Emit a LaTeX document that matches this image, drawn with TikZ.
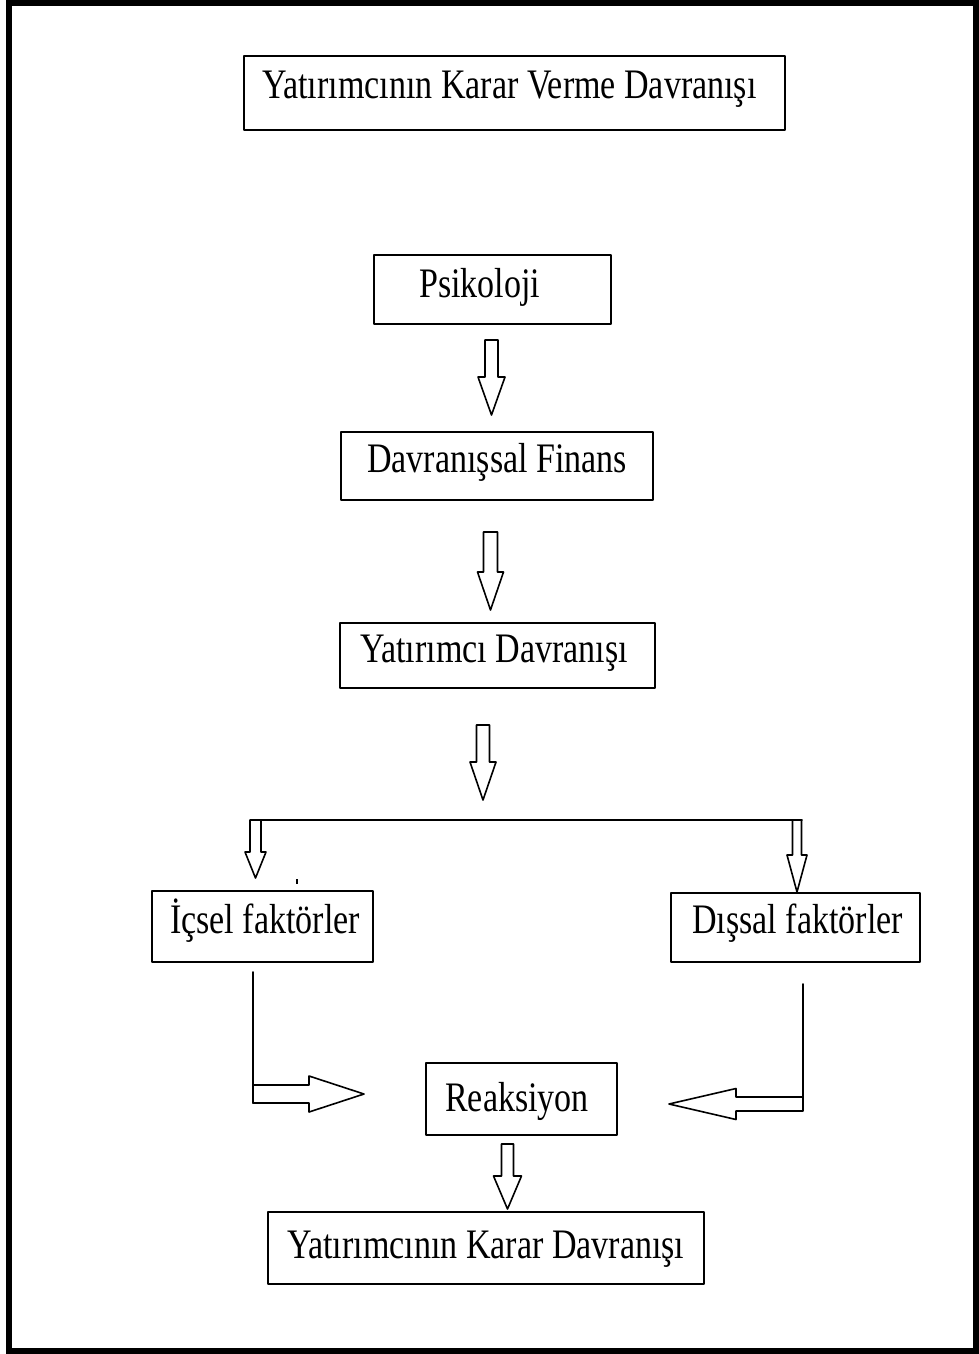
\documentclass[tikz,border=0pt]{standalone}
\usepackage{fontspec}
\setmainfont{Liberation Serif}[FakeStretch=0.81]
\usetikzlibrary{calc}
% outlined block arrow: start, end, half shaft, half head, head length
\newcommand{\barrow}[5]{%
  \coordinate (hb) at ($(#2)!#5!(#1)$);
  \draw [arr] ($(#1)!#3!90:(#2)$) -- ($(hb)!#3!-90:(#1)$) -- ($(hb)!#4!-90:(#1)$) -- (#2)
    -- ($(hb)!#4!90:(#1)$) -- ($(hb)!#3!90:(#1)$) -- ($(#1)!#3!-90:(#2)$) -- cycle;}

\begin{document}
\begin{tikzpicture}[line cap=round,line join=round,x=1pt,y=-1pt,
  box/.style={draw,line width=1.8pt,inner sep=0pt},
  lbl/.style={anchor=base west,inner sep=0pt,font=\fontsize{42}{48}\selectfont},
  arr/.style={line width=1.6pt,fill=white},
  ln/.style={line width=1.6pt}]
\useasboundingbox (0,0) rectangle (979,1354);
\draw [line width=6pt,line cap=butt,line join=miter] (9,3) rectangle (976,1351);
% boxes
\node [box,minimum width=541pt,minimum height=74pt] (title) at (514.5,93) {};
\node [box,minimum width=237pt,minimum height=69pt] (psk) at (492.5,289.5) {};
\node [box,minimum width=312pt,minimum height=68pt] (fin) at (497,466) {};
\node [box,minimum width=315pt,minimum height=65pt] (ydv) at (497.5,655.5) {};
\node [box,minimum width=221pt,minimum height=71pt] (ic) at (262.5,926.5) {};
\node [box,minimum width=249pt,minimum height=69pt] (dis) at (795.5,927.5) {};
\node [box,minimum width=191pt,minimum height=72pt] (rea) at (521.5,1099) {};
\node [box,minimum width=436pt,minimum height=72pt] (son) at (486,1248) {};
% texts
\node [lbl] (title-t) at (262,98) {Yatırımcının Karar Verme Davranışı};
\node [lbl] (psk-t) at (419,297) {Psikoloji};
\node [lbl] (fin-t) at (367,472) {Davranışsal Finans};
\node [lbl] (ydv-t) at (360,662) {Yatırımcı Davranışı};
\node [lbl] (ic-t) at (170,933) {İçsel faktörler};
\node [lbl] (dis-t) at (692,933) {Dışsal faktörler};
\node [lbl] (rea-t) at (445,1111) {Reaksiyon};
\node [lbl] (son-t) at (287,1258) {Yatırımcının Karar Davranışı};
% arrow ends
\coordinate (a1s) at (491.5,340); \coordinate (a1e) at (491.5,415);
\coordinate (a2s) at (490.5,532); \coordinate (a2e) at (490.5,610);
\coordinate (a3s) at (483,725);   \coordinate (a3e) at (483,800);
\coordinate (bl) at (251,820);    \coordinate (br) at (802,820);
\coordinate (lbs) at (255.5,820); \coordinate (lbe) at (255.5,878);
\coordinate (rbs) at (797,820);   \coordinate (rbe) at (797,892);
\coordinate (lv1) at (253,972);   \coordinate (lv2) at (253,1103);
\coordinate (las) at (253,1094);  \coordinate (lae) at (364,1094);
\coordinate (rv1) at (803,984);   \coordinate (rv2) at (803,1097);
\coordinate (ras) at (803,1104);  \coordinate (rae) at (669,1104);
\coordinate (a4s) at (507.5,1144); \coordinate (a4e) at (507.5,1209);
% connectors
\barrow{a1s}{a1e}{6.5pt}{13.5pt}{38pt}
\barrow{a2s}{a2e}{7pt}{13pt}{38pt}
\barrow{a3s}{a3e}{6.5pt}{13pt}{38pt}
\draw [ln] (bl) -- (br);
\barrow{lbs}{lbe}{5.5pt}{10.5pt}{26pt}
\barrow{rbs}{rbe}{4.5pt}{10pt}{37pt}
\draw [ln] (lv1) -- (lv2);
\barrow{las}{lae}{9pt}{18pt}{55pt}
\draw [ln] (rv1) -- (rv2);
\barrow{ras}{rae}{7pt}{15.5pt}{67pt}
\barrow{a4s}{a4e}{6pt}{14pt}{33pt}
%\fill (296,879) rectangle (298,884);
\fill (296,879) rectangle (298,884);
\end{tikzpicture}
\end{document}
